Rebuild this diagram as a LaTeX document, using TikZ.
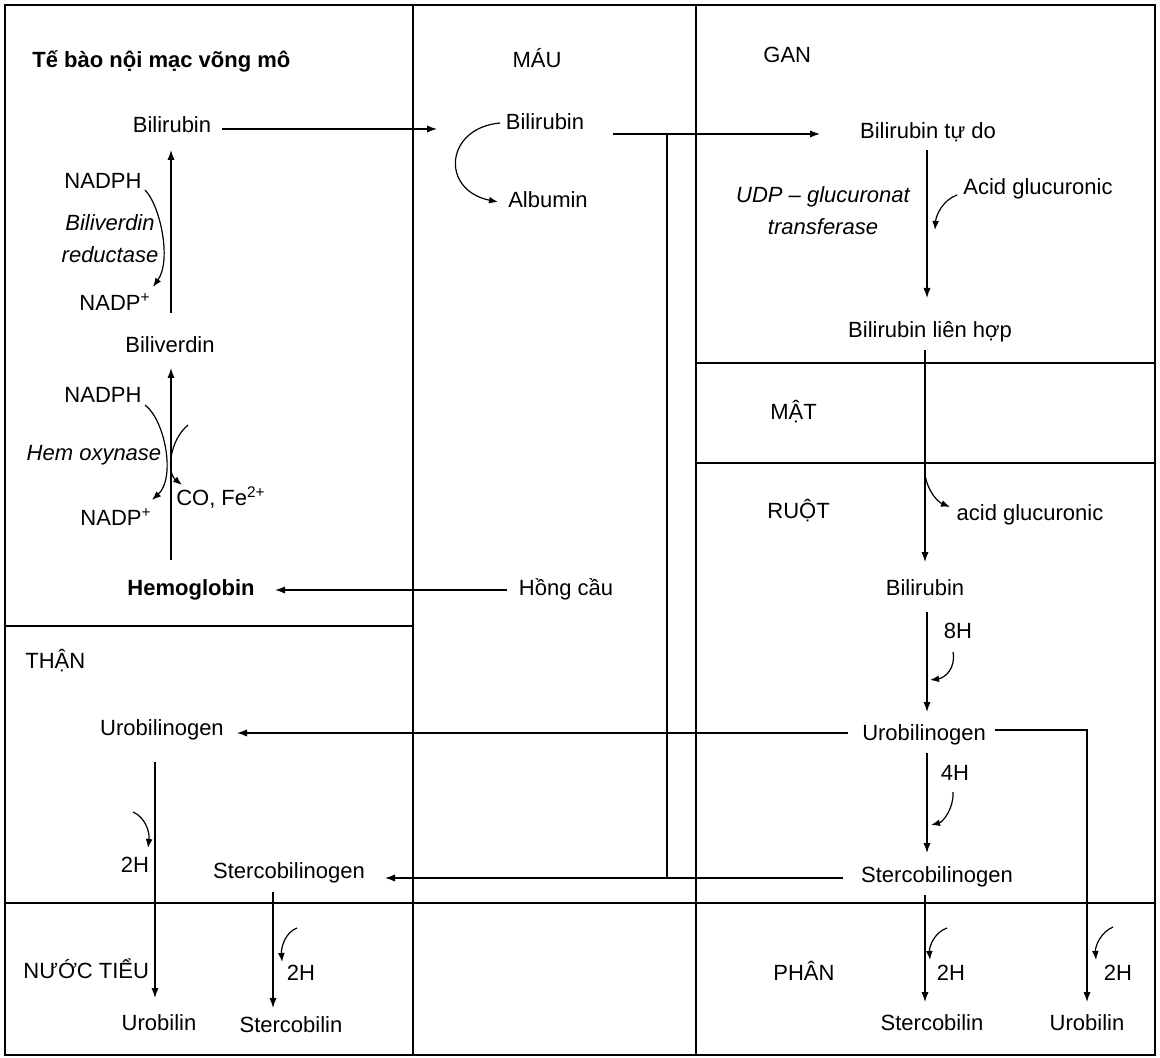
\documentclass[tikz,border=0pt]{standalone}
\usepackage{fontspec}
\setmainfont{Liberation Sans}
\usetikzlibrary{arrows.meta,calc}
\begin{document}
\begin{tikzpicture}[x=0.5pt,y=-0.5pt,
 lbl/.style={inner sep=0pt,text height=8pt,text depth=2.5pt,font=\fontsize{11}{13}\selectfont},
 bld/.style={lbl,font=\fontsize{11}{13}\selectfont\bfseries},
 two/.style={inner sep=0pt,align=center,font=\fontsize{11}{16}\selectfont\itshape},
 frame/.style={line width=0.9pt},
 arr/.style={line width=0.6pt,-{Latex[length=5pt,width=3.6pt]}},
 carr/.style={line width=0.6pt,-{Latex[length=4.5pt,width=3.4pt]}},
 ln/.style={line width=0.6pt},
 thick line/.style={line width=1.1pt}]
\useasboundingbox (0,0) rectangle (1160,1058);
% frame
\draw[frame] (5,5) rectangle (1155,1055);
\draw[frame] (413,5) -- (413,1055);
\draw[frame] (696,5) -- (696,1055);
\draw[frame] (5,626) -- (413,626);
\draw[frame] (5,903) -- (1155,903);
\draw[frame] (696,363) -- (1155,363);
\draw[frame] (696,463) -- (1155,463);
% titles
\node[bld,anchor=west] (t1) at (32,62) {Tế bào nội mạc võng mô};
\node[lbl] (mau) at (537,62) {MÁU};
\node[lbl,anchor=west] (gan) at (763,57) {GAN};
\node[lbl,anchor=west] (mat) at (770,414) {MẬT};
\node[lbl,anchor=west] (ruot) at (767,513) {RUỘT};
\node[lbl,anchor=west] (than) at (25,663) {THẬN};
\node[lbl,anchor=west] (nuoc) at (23,973) {NƯỚC TIỂU};
\node[lbl,anchor=west] (phan) at (773,975) {PHÂN};
% left panel
\node[lbl] (br1) at (172,127) {Bilirubin};
\node[lbl] (nadph1) at (103,183) {NADPH};
\node[two] (bvr) at (110,239) {Biliverdin\\reductase};
\node[lbl] (nadpp1) at (115,305) {NADP\textsuperscript{+}};
\node[lbl] (bv) at (170,347) {Biliverdin};
\node[lbl] (nadph2) at (103,397) {NADPH};
\node[lbl,font=\fontsize{11}{13}\selectfont\itshape] (hemox) at (94,455) {Hem oxynase};
\node[lbl] (nadpp2) at (116,520) {NADP\textsuperscript{+}};
\node[lbl] (cofe) at (221,500) {CO, Fe\textsuperscript{2+}};
\node[bld] (hb) at (191,590) {Hemoglobin};
% blood
\node[lbl] (br2) at (545,124) {Bilirubin};
\node[lbl] (alb) at (548,202) {Albumin};
\node[lbl] (hc) at (566,590) {Hồng cầu};
% liver
\node[lbl] (btd) at (928,133) {Bilirubin tự do};
\node[two] (udp) at (823,211) {UDP – glucuronat\\transferase};
\node[lbl] (agl) at (1038,189) {Acid glucuronic};
\node[lbl] (blh) at (930,332) {Bilirubin liên hợp};
% intestine
\node[lbl] (agl2) at (1030,515) {acid glucuronic};
\node[lbl] (br3) at (925,590) {Bilirubin};
\node[lbl] (h8) at (958,633) {8H};
\node[lbl] (ubg) at (924,735) {Urobilinogen};
\node[lbl] (h4) at (955,775) {4H};
\node[lbl] (sbg) at (937,877) {Stercobilinogen};
\node[lbl] (h2a) at (951,975) {2H};
\node[lbl] (sb) at (932,1025) {Stercobilin};
\node[lbl] (h2b) at (1118,975) {2H};
\node[lbl] (ub) at (1087,1025) {Urobilin};
% kidney
\node[lbl] (ubg2) at (162,730) {Urobilinogen};
\node[lbl] (h2c) at (135,867) {2H};
\node[lbl] (sbg2) at (289,873) {Stercobilinogen};
\node[lbl] (h2d) at (301,975) {2H};
\node[lbl] (ub2) at (159,1025) {Urobilin};
\node[lbl] (sb2) at (291,1027) {Stercobilin};
% connectors
\draw[arr] ($(br1)+(50,2)$) -- ($(br1)+(265,2)$);
\draw[arr] ($(br2)+(68,10)$) -- ($(btd)+(-108,1)$);
\draw[thick line] ($(br2)+(122,10)$) -- ($(sbg)+(-270,1)$);
\draw[carr] ($(br2)+(-45,-1)$) .. controls ($(br2)+(-100,4)$) and ($(br2)+(-105,66)$) .. ($(alb)+(-50,0)$);
\draw[arr] ($(hc)+(-59,0)$) -- ($(hb)+(84,0)$);
\draw[arr] ($(bv)+(1,-34)$) -- ($(br1)+(-1,23)$);
\draw[carr] ($(nadph1)+(42,7)$) .. controls (160,205) and (172,260) .. ($(nadpp1)+(38,-18)$);
\draw[arr] ($(hb)+(-20,-30)$) -- ($(bv)+(1,21)$);
\draw[carr] ($(nadph2)+(42,8)$) .. controls (165,420) and (176,478) .. ($(nadpp2)+(36,-20)$);
\draw[carr] ($(cofe)+(-33,-75)$) .. controls (170,440) and (166,472) .. ($(cofe)+(-39,-15)$);
\draw[arr] ($(btd)+(-1,17)$) -- ($(blh)+(-3,-34)$);
\draw[carr] ($(agl)+(-81,6)$) .. controls (943,200) and (936,215) .. ($(agl)+(-103,41)$);
\draw[arr] ($(blh)+(-5,18)$) -- ($(br3)+(0,-28)$);
\draw[carr] ($(agl2)+(-105,-40)$) .. controls (928,492) and (938,502) .. ($(agl2)+(-80,-8)$);
\draw[arr] ($(br3)+(2,22)$) -- ($(ubg)+(3,-23)$);
\draw[carr] ($(h8)+(-5,19)$) .. controls (956,668) and (945,678) .. ($(h8)+(-28,47)$);
\draw[arr] ($(ubg)+(3,18)$) -- ($(sbg)+(-10,-24)$);
\draw[carr] ($(h4)+(-2,17)$) .. controls (954,808) and (943,822) .. ($(h4)+(-24,50)$);
\draw[arr] ($(sbg)+(-12,18)$) -- ($(sb)+(-7,-23)$);
\draw[carr] ($(h2a)+(-4,-47)$) .. controls (935,932) and (929,946) .. ($(h2a)+(-21,-15)$);
\draw[arr] ($(ubg)+(71,-5)$) -| ($(ub)+(0,-23)$);
\draw[carr] ($(h2b)+(-5,-48)$) .. controls (1101,932) and (1095,946) .. ($(h2b)+(-22,-15)$);
\draw[arr] ($(ubg)+(-76,-2)$) -- ($(ubg2)+(75,3)$);
\draw[arr] ($(sbg)+(-94,1)$) -- ($(sbg2)+(96,5)$);
\draw[arr] ($(ubg2)+(-7,32)$) -- ($(ub2)+(-4,-27)$);
\draw[carr] ($(h2c)+(-2,-55)$) .. controls (145,817) and (150,832) .. ($(h2c)+(13,-19)$);
\draw[arr] ($(sbg2)+(-16,19)$) -- ($(sb2)+(-18,-19)$);
\draw[carr] ($(h2d)+(-4,-47)$) .. controls (286,932) and (281,946) .. ($(h2d)+(-19,-13)$);
\end{tikzpicture}
\end{document}
